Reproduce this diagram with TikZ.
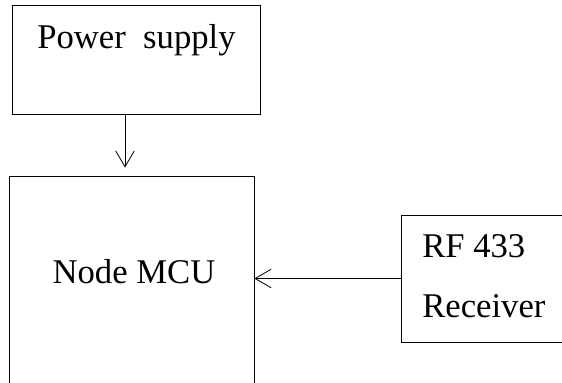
\documentclass[tikz,border=0pt]{standalone}
\usepackage{fontspec}
\setmainfont{Liberation Serif}
\usetikzlibrary{arrows.meta}

\begin{document}
\begin{tikzpicture}[x=0.75pt,y=0.75pt,yscale=-1,xscale=1,
  blockbox/.style={draw, line width=0.6pt, inner sep=0pt},
  blocktext/.style={inner sep=0pt, font=\fontsize{26}{30}\selectfont},
  flowarrow/.style={-{Straight Barb[length=12pt,width=14pt]}, line width=0.6pt}]
\useasboundingbox (0,0) rectangle (562,383);

% boxes
\node[blockbox, minimum width=186pt, minimum height=81.75pt] (power) at (136,59.5) {};
\node[blockbox, minimum width=183.75pt, minimum height=168pt] (mcu) at (131.5,288) {};
\node[blockbox, minimum width=164.25pt, minimum height=95.25pt] (rf) at (510.5,278.5) {};

% labels
\node[blocktext, anchor=base] (powertext) at (136.5,48) {Power\ \ supply};
\node[blocktext, anchor=base] (mcutext) at (134,283) {Node MCU};
\node[blocktext, anchor=base west] (rftext) at (422,257) {RF 433};
\node[blocktext, anchor=base west] (rxtext) at (422,317) {Receiver};

% connections
\draw[flowarrow, shorten >=6pt] ([xshift=-8.25pt]power.south) -- ([xshift=-8.25pt]power.south |- mcu.north);
\draw[flowarrow] (rf.west) -- (mcu.east |- rf.west);

\end{tikzpicture}
\end{document}
